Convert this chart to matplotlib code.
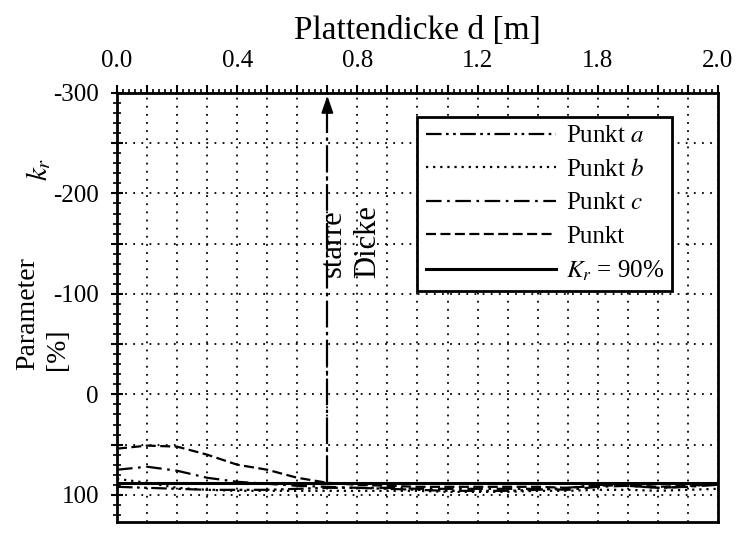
import matplotlib
matplotlib.use("Agg")
import matplotlib.pyplot as plt
from matplotlib.ticker import MultipleLocator, FuncFormatter
import numpy as np

plt.rcParams['font.family'] = ['Liberation Serif', 'DejaVu Serif']
plt.rcParams['mathtext.fontset'] = 'stix'

# ---- data ----
thickness = [0.0, 0.1, 0.2, 0.3, 0.4, 0.5, 0.6, 0.7, 0.8, 0.9, 1.0,
             1.1, 1.2, 1.3, 1.4, 1.5, 1.6, 1.7, 1.8, 1.9, 2.0]
punkt_a = [92, 93, 94, 95, 95, 95, 94, 93, 93, 94, 95, 96, 96, 96, 95, 93, 90, 91, 93, 92, 88]
punkt_b = [84, 88, 93, 95, 96, 96, 96, 96, 96, 96, 96, 97, 97, 97, 96, 96, 95, 95, 96, 95, 94]
punkt_c = [75, 72, 76, 83, 87, 89, 91, 92, 93, 93, 94, 94, 94, 94, 94, 95, 92, 91, 93, 92, 90]
punkt = [54, 51, 52, 60, 70, 75, 83, 88, 90, 91, 92, 92, 92, 92, 92, 93, 91, 90, 92, 91, 89]
kr_level = 88
starre_dicke = 0.7

x_tick_pos = [0.0, 0.4, 0.8, 1.2, 1.6, 2.0]
x_tick_labels = ["0.0", "0.4", "0.8", "1.2", "1.8", "2.0"]
y_tick_pos = [-300, -200, -100, 0, 100]
y_tick_labels = ["-300", "-200", "-100", "0", "100"]

fig = plt.figure(figsize=(7.43, 5.46), dpi=100)
ax = fig.add_axes([0.1575, 0.044, 0.8088, 0.7857])

lw = 1.6
ax.plot(thickness, punkt_a, color='black', lw=lw, ls=(0, (7, 2, 1.2, 2, 1.2, 2)), label='Punkt $a$')
ax.plot(thickness, punkt_b, color='black', lw=lw, ls=(0, (1, 2.2)), label='Punkt $b$')
ax.plot(thickness, punkt_c, color='black', lw=lw, ls=(0, (7, 2.5, 1.2, 2.5)), label='Punkt $c$')
ax.plot(thickness, punkt, color='black', lw=lw, ls=(0, (4.5, 2)), label='Punkt')
ax.axhline(kr_level, color='black', lw=2.2, label='$K_r$ = 90%')

# vertical "starre Dicke" marker with arrow
ax.plot([starre_dicke, starre_dicke], [kr_level, -290], color='black', lw=1.6,
        ls=(0, (12, 2, 1.5, 2)))
ax.annotate('', xy=(starre_dicke, -300), xytext=(starre_dicke, -285),
            arrowprops=dict(arrowstyle='-|>,head_length=1.0,head_width=0.35',
                            color='black', lw=1.5))
ax.text(starre_dicke + 0.018, -150, 'starre', rotation=90, ha='center', va='center', fontsize=22)
ax.text(starre_dicke + 0.135, -152, 'Dicke', rotation=90, ha='center', va='center', fontsize=22)

ax.set_xlim(0, 2.0)
ax.set_ylim(127, -300)

# x ticks on top
ax.xaxis.tick_top()
ax.xaxis.set_label_position('top')
ax.xaxis.set_major_locator(MultipleLocator(0.1))
ax.xaxis.set_minor_locator(MultipleLocator(0.02))
xlabel_map = {round(p, 2): l for p, l in zip(x_tick_pos, x_tick_labels)}
ax.xaxis.set_major_formatter(FuncFormatter(lambda v, p: xlabel_map.get(round(v, 2), '')))
ax.tick_params(axis='x', which='major', direction='out', length=6, width=1.5, labelsize=18, pad=9)
ax.tick_params(axis='x', which='minor', direction='out', length=3, width=1.2)

ax.yaxis.set_major_locator(MultipleLocator(50))
ax.yaxis.set_minor_locator(MultipleLocator(10))
ylabel_map = {p: l for p, l in zip(y_tick_pos, y_tick_labels)}
ax.yaxis.set_major_formatter(FuncFormatter(lambda v, p: ylabel_map.get(int(round(v)), '')))
ax.tick_params(axis='y', which='major', direction='inout', length=8, width=1.5, labelsize=18, pad=9)
ax.tick_params(axis='y', which='minor', direction='inout', length=6, width=1.2)

ax.grid(True, which='major', color='black', ls=(0, (1, 3.5)), lw=1.3)

for s in ax.spines.values():
    s.set_linewidth(2)

ax.set_xlabel('Plattendicke d [m]', fontsize=24, labelpad=8)

fig.text(0.037, 0.425, 'Parameter', rotation=90, ha='center', va='center', fontsize=20)
fig.text(0.078, 0.36, '[%]', rotation=90, ha='center', va='center', fontsize=20)
fig.text(0.052, 0.69, '$k_r$', rotation=90, ha='center', va='center', fontsize=21)

leg = ax.legend(loc='upper left', bbox_to_anchor=(0.5, 0.945), fontsize=18,
                handlelength=5.2, frameon=True, fancybox=False, edgecolor='black',
                framealpha=1, borderpad=0.33, labelspacing=0.44, handletextpad=0.4,
                borderaxespad=0)
leg.get_frame().set_linewidth(2)

fig.savefig('out.png', dpi=100)
